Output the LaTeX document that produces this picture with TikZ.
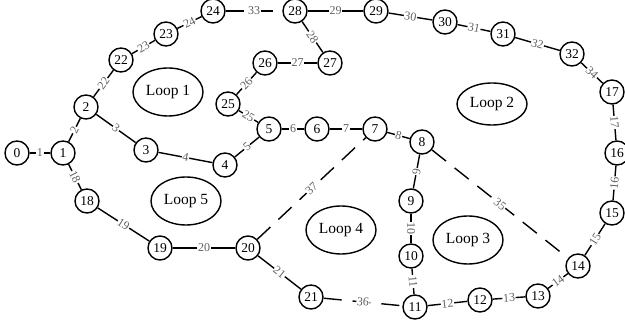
\documentclass[tikz,border=0pt]{standalone}
\usepackage{fontspec}
\setmainfont{Liberation Serif}
\usetikzlibrary{shapes.geometric}
\tikzset{
  vtx/.style={circle, draw, line width=1.4pt, minimum size=24pt, inner sep=0pt, font=\fontsize{13.5}{13.5}\selectfont},
  loopbox/.style={ellipse, draw, line width=1.4pt, minimum width=70pt, minimum height=48pt, inner sep=0pt, font=\fontsize{15.5}{16}\selectfont},
  edge/.style={line width=1.4pt},
  dedge/.style={line width=1.4pt, dash pattern=on 18pt off 11pt},
  elab/.style={midway, sloped, fill=white, inner sep=0.6pt, text=black!62, font=\fontsize{12}{12}\selectfont}
}
\begin{document}
\begin{tikzpicture}[x=1pt, y=-1pt]
\useasboundingbox (0,0) rectangle (625,320);
\node[vtx] (n0) at (17,153) {0};
\node[vtx] (n1) at (63,153) {1};
\node[vtx] (n2) at (86,107) {2};
\node[vtx] (n3) at (146,150) {3};
\node[vtx] (n4) at (225,165) {4};
\node[vtx] (n5) at (269,129) {5};
\node[vtx] (n6) at (317,129) {6};
\node[vtx] (n7) at (375,129) {7};
\node[vtx] (n8) at (422,142) {8};
\node[vtx] (n9) at (411,201) {9};
\node[vtx] (n10) at (411,256) {10};
\node[vtx] (n11) at (415,307) {11};
\node[vtx] (n12) at (480,300) {12};
\node[vtx] (n13) at (538,296) {13};
\node[vtx] (n14) at (578,266) {14};
\node[vtx] (n15) at (612,213) {15};
\node[vtx] (n16) at (617,153) {16};
\node[vtx] (n17) at (612,92) {17};
\node[vtx] (n18) at (87,201) {18};
\node[vtx] (n19) at (160,248) {19};
\node[vtx] (n20) at (248,248) {20};
\node[vtx] (n21) at (311,297) {21};
\node[vtx] (n22) at (121,60) {22};
\node[vtx] (n23) at (166,34) {23};
\node[vtx] (n24) at (213,11) {24};
\node[vtx] (n25) at (228,104) {25};
\node[vtx] (n26) at (265,63) {26};
\node[vtx] (n27) at (330,63) {27};
\node[vtx] (n28) at (295,11) {28};
\node[vtx] (n29) at (376,11) {29};
\node[vtx] (n30) at (445,22) {30};
\node[vtx] (n31) at (503,34) {31};
\node[vtx] (n32) at (572,54) {32};

\node[loopbox] (L1) at (168,92) {Loop 1};
\node[loopbox, minimum height=42pt] (L2) at (492,104) {Loop 2};
\node[loopbox] (L3) at (468,240) {Loop 3};
\node[loopbox] (L4) at (341,230) {Loop 4};
\node[loopbox] (L5) at (186,201) {Loop 5};

\draw[edge] (n0) -- node[elab] {1} (n1);
\draw[edge] (n1) -- node[elab] {2} (n2);
\draw[edge] (n2) -- node[elab] {3} (n3);
\draw[edge] (n3) -- node[elab] {4} (n4);
\draw[edge] (n4) -- node[elab] {5} (n5);
\draw[edge] (n5) -- node[elab] {6} (n6);
\draw[edge] (n6) -- node[elab] {7} (n7);
\draw[edge] (n7) -- node[elab] {8} (n8);
\draw[edge] (n8) -- node[elab] {9} (n9);
\draw[edge] (n9) -- node[elab] {10} (n10);
\draw[edge] (n10) -- node[elab] {11} (n11);
\draw[edge] (n11) -- node[elab] {12} (n12);
\draw[edge] (n12) -- node[elab] {13} (n13);
\draw[edge] (n13) -- node[elab] {14} (n14);
\draw[edge] (n14) -- node[elab] {15} (n15);
\draw[edge] (n15) -- node[elab] {16} (n16);
\draw[edge] (n16) -- node[elab] {17} (n17);
\draw[edge] (n1) -- node[elab] {18} (n18);
\draw[edge] (n18) -- node[elab] {19} (n19);
\draw[edge] (n19) -- node[elab] {20} (n20);
\draw[edge] (n20) -- node[elab] {21} (n21);
\draw[edge] (n2) -- node[elab] {22} (n22);
\draw[edge] (n22) -- node[elab] {23} (n23);
\draw[edge] (n23) -- node[elab] {24} (n24);
\draw[edge] (n5) -- node[elab] {25} (n25);
\draw[edge] (n25) -- node[elab] {26} (n26);
\draw[edge] (n26) -- node[elab] {27} (n27);
\draw[edge] (n27) -- node[elab] {28} (n28);
\draw[edge] (n28) -- node[elab] {29} (n29);
\draw[edge] (n29) -- node[elab] {30} (n30);
\draw[edge] (n30) -- node[elab] {31} (n31);
\draw[edge] (n31) -- node[elab] {32} (n32);
\draw[edge] (n32) -- node[elab] {34} (n17);
\draw[dedge] (n24) -- node[elab] {33} (n28);
\draw[dedge] (n8) -- node[elab] {35} (n14);
\draw[dedge] (n21) -- node[elab] {36} (n11);
\draw[dedge] (n20) -- node[elab] {37} (n7);
\end{tikzpicture}
\end{document}
